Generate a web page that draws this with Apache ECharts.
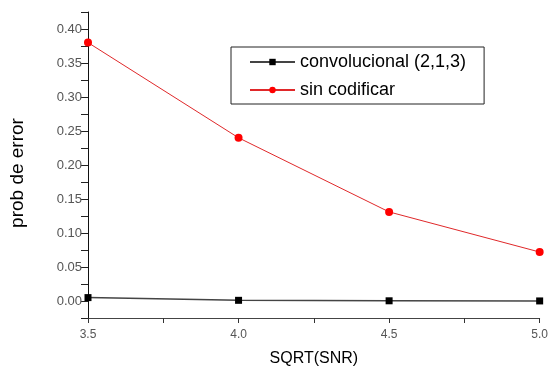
<!DOCTYPE html>
<html>
<head>
<meta charset="utf-8">
<script src="https://cdn.jsdelivr.net/npm/echarts@6/dist/echarts.min.js"></script>
<style>html,body{margin:0;padding:0;background:#fff;}#c{width:551px;height:372px;}</style>
</head>
<body>
<div id="c"></div>
<script>
var xValues = [3.5, 4.0, 4.5, 5.0];
var convolucional = [0.005, 0.001, 0.0003, 0.0001];
var sinCodificar = [0.38, 0.24, 0.131, 0.072];
var seriesNames = ['convolucional (2,1,3)', 'sin codificar'];
var xTitle = 'SQRT(SNR)';
var yTitle = 'prob de error';

function pairs(xs, ys) { return xs.map(function (x, i) { return [x, ys[i]]; }); }

var chart = echarts.init(document.getElementById('c'), null, {renderer: 'canvas'});
var font = 'Arial, "Liberation Sans", sans-serif';
chart.setOption({
  animation: false,
  backgroundColor: '#fff',
  grid: {left: 86, right: 8, top: 12, bottom: 52},
  legend: {
    orient: 'vertical', left: 231, top: 47,
    borderColor: '#222', borderWidth: 1,
    padding: [6, 18, 5, 18],
    itemWidth: 45, itemHeight: 8, itemGap: 10,
    textStyle: {fontFamily: font, fontSize: 18, color: '#000', lineHeight: 16},
    data: seriesNames
  },
  xAxis: {
    type: 'value', min: 3.5, max: 5.0, interval: 0.5,
    name: xTitle, nameLocation: 'middle', nameGap: 33,
    nameTextStyle: {fontFamily: font, fontSize: 16, color: '#000'},
    axisLine: {onZero: false, lineStyle: {color: '#444', width: 1}},
    axisTick: {show: true, length: 5, lineStyle: {color: '#333'}},
    minorTick: {show: true, splitNumber: 2, length: 5, lineStyle: {color: '#333'}},
    splitLine: {show: false},
    axisLabel: {fontFamily: font, fontSize: 12, color: '#555', margin: 11,
      formatter: function (v) { return v.toFixed(1); }}
  },
  yAxis: {
    type: 'value', min: -0.025, max: 0.425, interval: 0.025,
    name: yTitle, nameLocation: 'middle', nameGap: 61, nameRotate: 90,
    nameTextStyle: {fontFamily: font, fontSize: 19, color: '#000', padding: [0, 16, 0, 0]},
    axisLine: {onZero: false, lineStyle: {color: '#111', width: 1}},
    axisTick: {show: true, length: 7, lineStyle: {color: '#222'}},
    splitLine: {show: false},
    axisLabel: {fontFamily: font, fontSize: 13, color: '#555', margin: 6,
      formatter: function (v) {
        var m = Math.round(v * 1000);
        return (m % 50 === 0) ? (m / 1000).toFixed(2) : '';
      }}
  },
  series: [
    {
      name: seriesNames[0], type: 'line', data: pairs(xValues, convolucional),
      symbol: 'rect', symbolSize: 7, color: '#000',
      itemStyle: {color: '#000'},
      lineStyle: {color: '#444', width: 1.5}
    },
    {
      name: seriesNames[1], type: 'line', data: pairs(xValues, sinCodificar),
      symbol: 'circle', symbolSize: 8, color: '#ff0000',
      itemStyle: {color: '#ff0000'},
      lineStyle: {color: '#e0282a', width: 1}
    }
  ]
});
</script>
</body>
</html>
